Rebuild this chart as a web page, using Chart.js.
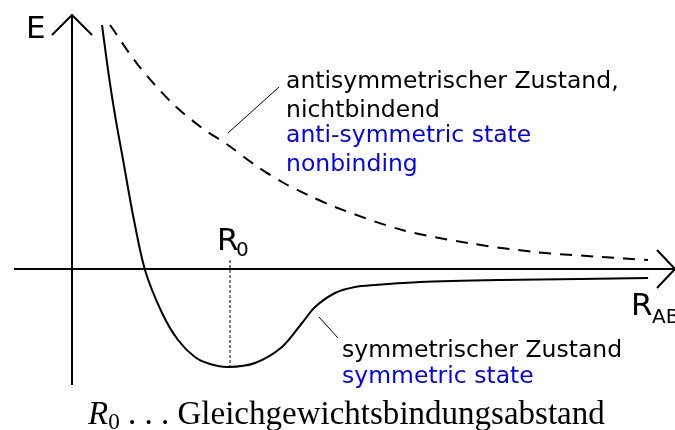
<!DOCTYPE html>
<html lang="en">
<head>
    <meta charset="UTF-8">
    <title>Potentialkurven</title>
    <script src="https://cdn.jsdelivr.net/npm/chart.js"></script>
    <style>
        body {
            margin: 0;
            background: #fff;
        }
        canvas {
            display: block;
        }
    </style>
</head>
<body>

<canvas id="potChart" width="675" height="430"></canvas>

<script>
    // R in units of R0, E in arbitrary units (0 = separated atoms)
    const symR = [0.19, 0.228, 0.272, 0.329, 0.386, 0.462, 0.57, 0.671, 0.778, 0.873, 0.987, 1.158, 1.329, 1.456, 1.538, 1.665, 1.791, 1.918, 2.203, 2.709, 3.215, 3.646];
    const symE = [2.44, 1.99, 1.54, 1.04, 0.54, -0.01, -0.44, -0.71, -0.88, -0.95, -0.98, -0.94, -0.78, -0.54, -0.38, -0.24, -0.18, -0.16, -0.13, -0.11, -0.10, -0.09];

    const antiR = [0.241, 0.418, 0.633, 0.823, 0.987, 1.158, 1.329, 1.494, 1.665, 2.089, 2.506, 2.93, 3.354, 3.646];
    const antiE = [2.44, 2.04, 1.66, 1.41, 1.24, 1.04, 0.87, 0.74, 0.62, 0.39, 0.26, 0.17, 0.12, 0.09];

    const R0 = 1;

    function toPoints(xs, ys) {
        return xs.map(function(x, i) { return { x: x, y: ys[i] }; });
    }

    const font = '"DejaVu Sans", sans-serif';

    // draws the axes with arrowheads and all the labels
    const sketchPlugin = {
        id: 'sketch',
        beforeDatasetsDraw: function(chart) {
            const c = chart.ctx;
            const xs = chart.scales.x, ys = chart.scales.y;
            const ox = xs.getPixelForValue(0), oy = ys.getPixelForValue(0);
            const right = xs.getPixelForValue(xs.max);
            const top = ys.getPixelForValue(2.54);
            c.save();
            c.strokeStyle = '#000';
            c.lineWidth = 2;
            c.lineCap = 'butt';
            c.beginPath();
            // x axis
            c.moveTo(14, oy);
            c.lineTo(right, oy);
            c.moveTo(right - 18, oy - 19);
            c.lineTo(right, oy);
            c.lineTo(right - 18, oy + 19);
            // y axis
            c.moveTo(ox, 385);
            c.lineTo(ox, top);
            c.moveTo(ox - 20, top + 20);
            c.lineTo(ox, top);
            c.lineTo(ox + 20, top + 20);
            c.stroke();

            // R0 marker
            const rx = xs.getPixelForValue(R0);
            c.lineWidth = 1;
            c.setLineDash([3, 2]);
            c.beginPath();
            c.moveTo(rx, oy - 9);
            c.lineTo(rx, ys.getPixelForValue(-0.98));
            c.stroke();
            c.setLineDash([]);

            // leader lines
            c.beginPath();
            c.moveTo(228, 133);
            c.lineTo(279, 87);
            c.moveTo(319, 317);
            c.lineTo(338, 338);
            c.stroke();
            c.restore();
        },
        afterDraw: function(chart) {
            const c = chart.ctx;
            const xs = chart.scales.x;
            const rx = xs.getPixelForValue(R0);
            c.save();
            c.textBaseline = 'alphabetic';
            c.textAlign = 'left';
            c.fillStyle = '#000';

            c.font = '31px ' + font;
            c.fillText('E', 26, 38);
            c.fillText('R', rx - 13, 250);
            c.fillText('R', 631, 315);
            c.font = '20px ' + font;
            c.fillText('0', rx + 6, 256);
            c.fillText('AB', 652, 323);

            c.font = '23.5px ' + font;
            c.fillText('antisymmetrischer Zustand,', 286, 88);
            c.fillText('nichtbindend', 286, 117);
            c.fillText('symmetrischer Zustand', 342, 357);
            c.fillStyle = '#0000ff';
            c.fillText('anti-symmetric state', 286, 142);
            c.fillText('nonbinding', 286, 171);
            c.fillText('symmetric state', 342, 383);

            // caption, fitted to its width in the reference
            c.fillStyle = '#000';
            const serif = '"Liberation Serif", "DejaVu Serif", serif';
            const base = 32;
            c.font = 'italic ' + base + 'px ' + serif;
            const w1 = c.measureText('R').width;
            c.font = (base * 0.7) + 'px ' + serif;
            const w2 = c.measureText('0').width;
            c.font = base + 'px ' + serif;
            const w3 = c.measureText(' . . . Gleichgewichtsbindungsabstand').width;
            const k = 517 / (w1 + w2 + w3);
            const f = base * k;
            let x = 88;
            c.font = 'italic ' + f + 'px ' + serif;
            c.fillText('R', x, 424);
            x += w1 * k;
            c.font = (f * 0.7) + 'px ' + serif;
            c.fillText('0', x, 429);
            x += w2 * k;
            c.font = f + 'px ' + serif;
            c.fillText(' . . . Gleichgewichtsbindungsabstand', x, 424);
            c.restore();
        }
    };

    const ctx = document.getElementById('potChart').getContext('2d');
    const potChart = new Chart(ctx, {
        type: 'scatter',
        data: {
            datasets: [
                {
                    label: 'symmetrischer Zustand',
                    data: toPoints(symR, symE),
                    showLine: true,
                    borderColor: '#000',
                    borderWidth: 2,
                    pointRadius: 0,
                    tension: 0.3
                },
                {
                    label: 'antisymmetrischer Zustand',
                    data: toPoints(antiR, antiE),
                    showLine: true,
                    borderColor: '#000',
                    borderWidth: 2,
                    borderDash: [12, 9],
                    pointRadius: 0,
                    tension: 0.3
                }
            ]
        },
        plugins: [sketchPlugin],
        options: {
            responsive: false,
            animation: false,
            layout: { padding: 0 },
            plugins: {
                legend: { display: false },
                tooltip: { enabled: false }
            },
            scales: {
                x: { type: 'linear', display: false, min: -72 / 158, max: 603 / 158 },
                y: { type: 'linear', display: false, min: -1.61, max: 2.69 }
            }
        }
    });
</script>

</body>
</html>
